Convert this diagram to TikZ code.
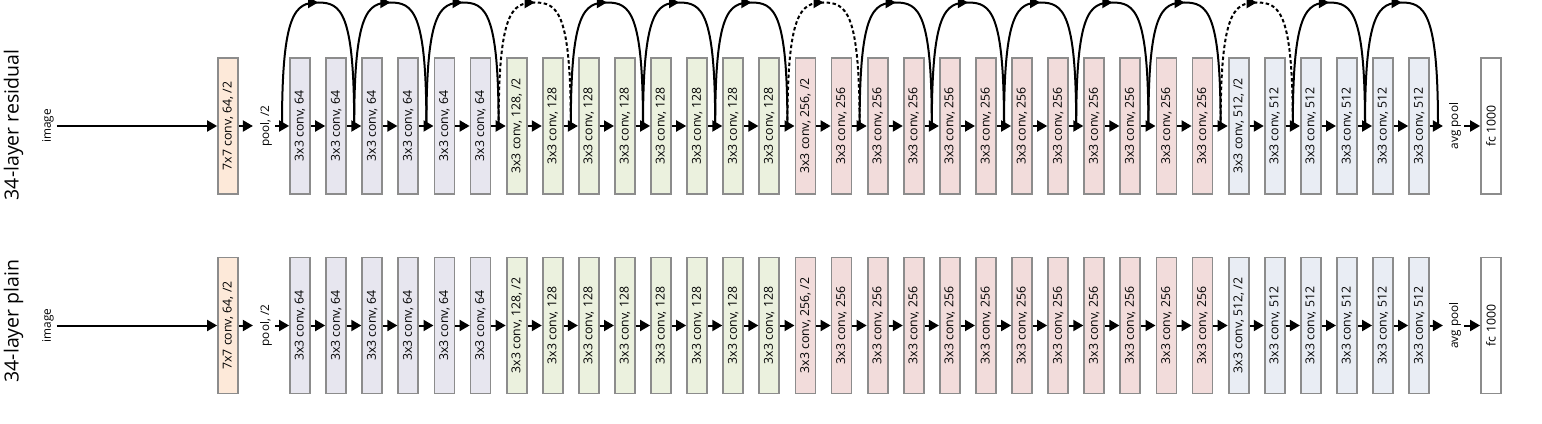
\documentclass[tikz,border=0pt]{standalone}
\usepackage{fontspec}
\setmainfont{Open Sans}
\usepackage{graphicx}
\usetikzlibrary{arrows.meta,decorations.markings,calc}
\definecolor{cSeven}{HTML}{FDE9D9}
\definecolor{cSix}{HTML}{E7E6EF}
\definecolor{cOne}{HTML}{EBF1DE}
\definecolor{cTwo}{HTML}{F2DCDB}
\definecolor{cFive}{HTML}{E9EDF4}
\definecolor{cWhite}{HTML}{FFFFFF}
\definecolor{bord}{HTML}{8C8C8C}
\begin{document}
\begin{tikzpicture}[x=1pt,y=-1pt,
  layer/.style={draw=bord, line width=1.8pt, minimum width=20pt, minimum height=136pt,
    inner sep=0pt, font=\fontsize{12.3}{14}\selectfont},
  lbl/.style={inner sep=0pt, inner xsep=3pt, font=\fontsize{11.8}{13}\selectfont},
  rowtitle/.style={inner sep=0pt, font=\fontsize{19.5}{22}\selectfont},
  arr/.style={line width=2pt, -{Triangle[length=10pt,width=11pt]}},
  skipline/.style={line width=2pt, postaction=decorate,
    decoration={markings, mark=at position 0.5 with {\arrow{Triangle[length=10pt,width=11pt]}}}},
  proj/.style={skipline, dash pattern=on 3.5pt off 2.5pt}
]
\useasboundingbox (0,0) rectangle (1542,423);

\node[rowtitle] (rtitle) at (13.5,125) {\rotatebox{90}{34-layer residual}};
\node[rowtitle] (ptitle) at (13.5,321) {\rotatebox{90}{34-layer plain}};

\foreach \r/\yy in {r/126,p/325.5}{
  \node[lbl] (\r img) at (48,\yy) {\rotatebox{90}{image}};
  \node[layer, fill=cSeven] (\r0) at (228,\yy) {\rotatebox{90}{7x7 conv, 64, /2}};
  \node[lbl] (\r pool) at (266,\yy) {\rotatebox{90}{pool, /2}};
  \foreach \k/\c/\t in {1/cSix/{3x3 conv, 64},2/cSix/{3x3 conv, 64},3/cSix/{3x3 conv, 64},
      4/cSix/{3x3 conv, 64},5/cSix/{3x3 conv, 64},6/cSix/{3x3 conv, 64},
      7/cOne/{3x3 conv, 128, /2},8/cOne/{3x3 conv, 128},9/cOne/{3x3 conv, 128},
      10/cOne/{3x3 conv, 128},11/cOne/{3x3 conv, 128},12/cOne/{3x3 conv, 128},
      13/cOne/{3x3 conv, 128},14/cOne/{3x3 conv, 128},
      15/cTwo/{3x3 conv, 256, /2},16/cTwo/{3x3 conv, 256},17/cTwo/{3x3 conv, 256},
      18/cTwo/{3x3 conv, 256},19/cTwo/{3x3 conv, 256},20/cTwo/{3x3 conv, 256},
      21/cTwo/{3x3 conv, 256},22/cTwo/{3x3 conv, 256},23/cTwo/{3x3 conv, 256},
      24/cTwo/{3x3 conv, 256},25/cTwo/{3x3 conv, 256},26/cTwo/{3x3 conv, 256},
      27/cFive/{3x3 conv, 512, /2},28/cFive/{3x3 conv, 512},29/cFive/{3x3 conv, 512},
      30/cFive/{3x3 conv, 512},31/cFive/{3x3 conv, 512},32/cFive/{3x3 conv, 512}}{
    \pgfmathsetmacro\xx{300+(\k-1)*36.1}
    \node[layer, fill=\c] (\r\k) at (\xx,\yy) {\rotatebox{90}{\t}};
  }
  \node[lbl] (\r avg) at (1455,\yy) {\rotatebox{90}{avg pool}};
  \node[layer, fill=cWhite] (\r fc) at (1491,\yy) {\rotatebox{90}{fc 1000}};

  \draw[arr] (\r img.east) -- (\r0.west);
  \draw[arr, shorten >=4pt] (\r0.east) -- (\r pool.west);
  \draw[arr] (\r pool.east) -- (\r1.west);
  \foreach \k in {1,...,31}{
    \pgfmathtruncatemacro\nx{\k+1}
    \draw[arr] (\r\k.east) -- (\r\nx.west);
  }
  \draw[arr, shorten >=3pt] (\r32.east) -- (\r avg.west);
  \draw[arr] (\r avg.east) -- (\r fc.west);
}

% junctions of the residual row
\foreach \k in {1,...,32}{
  \pgfmathsetmacro\xx{300+(\k-1)*36.1-18}
  \coordinate (j\k) at (\xx,126);
}
\coordinate (j33) at ($(r32.east)+(8,0)$);

% shortcut arcs
\foreach \b/\sty in {0/skipline,1/skipline,2/skipline,3/proj,4/skipline,5/skipline,
    6/skipline,7/proj,8/skipline,9/skipline,10/skipline,11/skipline,12/skipline,
    13/proj,14/skipline,15/skipline}{
  \pgfmathtruncatemacro\sa{2*\b+1}
  \pgfmathtruncatemacro\sb{2*\b+3}
  \path (j\sa) -- coordinate[pos=0.5] (m\b) (j\sb);
  \coordinate (a\b) at (m\b |- 0,2.5);
  \draw[\sty] (j\sa) .. controls +(0,-114) and +(-23,0) .. (a\b)
              .. controls +(23,0) and +(0,-114) .. (j\sb);
}
\end{tikzpicture}
\end{document}
